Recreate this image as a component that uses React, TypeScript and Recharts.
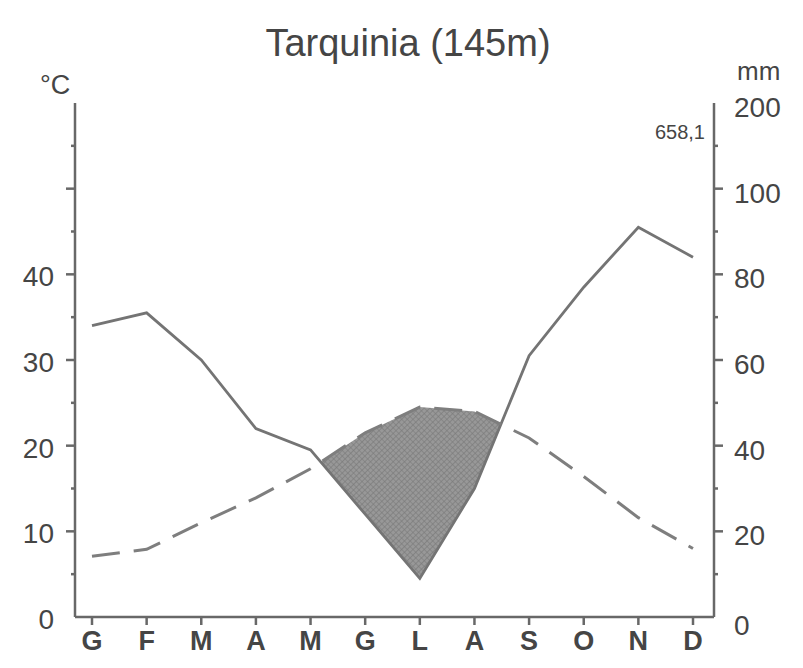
import React from "react";
import { ComposedChart, Area, Line, XAxis, YAxis } from "recharts";

// Walter-Lieth climate diagram, Tarquinia
const months = ["G", "F", "M", "A", "M", "G", "L", "A", "S", "O", "N", "D"];
const tempC = [7.1, 7.9, 11.0, 13.9, 17.3, 21.5, 24.5, 24.0, 20.9, 16.4, 11.6, 8.0];
const precipMm = [68, 71, 60, 44, 39, 24, 9, 30, 61, 77, 91, 84];

const tempTicks = [0, 5, 10, 15, 20, 25, 30, 35, 40, 45, 50, 55];
const tempLabels = [0, 10, 20, 30, 40];
// above 100 mm the scale is compressed: 120 on the linear axis stands for 200 mm
const mmTicks = [0, 10, 20, 30, 40, 50, 60, 70, 80, 90, 100, 110, 120];
const mmLabels: Record<number, string> = { 0: "0", 20: "20", 40: "40", 60: "60", 80: "80", 100: "100", 120: "200" };

const data = months.map((m, i) => ({ idx: i, month: m, temp: tempC[i], rain: precipMm[i] }));

const INK = "#686868";
const TEXT = "#454545";
const FONT = "'Liberation Sans', Arial, sans-serif";

const LeftTick = (props: any) => {
  const { x, y, payload } = props;
  const v = payload.value;
  const ax = x + 10;
  const major = v % 10 === 0;
  return (
    <g>
      {v > 0 && (
        <line x1={ax} x2={ax - (major ? 9 : 4)} y1={y} y2={y} stroke={INK} strokeWidth={2.5} />
      )}
      {tempLabels.includes(v) && (
        <text x={ax - 21} y={y + 2} dy="0.36em" textAnchor="end" fill={TEXT} fontSize={28} fontFamily={FONT}>
          {v}
        </text>
      )}
    </g>
  );
};

const RightTick = (props: any) => {
  const { x, y, payload } = props;
  const v = payload.value;
  const ax = x - 10;
  const major = v % 20 === 0;
  return (
    <g>
      {v > 0 && v < 120 && (
        <line x1={ax} x2={ax + (major ? 9 : 4)} y1={y} y2={y} stroke={INK} strokeWidth={2.5} />
      )}
      {mmLabels[v] !== undefined && (
        <text x={ax + 20} y={v === 0 ? y + 8 : y + 4} dy="0.36em" textAnchor="start" fill={TEXT} fontSize={28} fontFamily={FONT}>
          {mmLabels[v]}
        </text>
      )}
    </g>
  );
};

export default function App() {
  return (
    <div style={{ position: "absolute", left: 0, top: 0, width: 803, height: 668, background: "#fff" }}>
      <ComposedChart width={803} height={668} data={data} margin={{ top: 103, right: 0, bottom: 0, left: 0 }}>
        <defs>
          <pattern id="dry" width="4" height="4" patternUnits="userSpaceOnUse" patternTransform="rotate(45)">
            <rect width="4" height="4" fill="#989898" />
            <path d="M0 0 L0 4 M0 0 L4 0" stroke="#777777" strokeWidth="1.2" />
          </pattern>
        </defs>
        <text x={408} y={56} textAnchor="middle" fill={TEXT} fontSize={38} fontFamily={FONT}>
          Tarquinia (145m)
        </text>
        <text x={40} y={94} fill={TEXT} fontSize={27} fontFamily={FONT}>
          °C
        </text>
        <text x={737} y={80} fill={TEXT} fontSize={26} fontFamily={FONT}>
          mm
        </text>
        <text x={705} y={139} textAnchor="end" fill={TEXT} fontSize={20} fontFamily={FONT}>
          658,1
        </text>
        <XAxis
          dataKey="idx"
          type="category"
          scale="point"
          padding={{ left: 17, right: 21 }}
          height={51}
          tickFormatter={(i: number) => months[i]}
          interval={0}
          stroke={INK}
          axisLine={{ strokeWidth: 2.5 }}
          tickLine={{ strokeWidth: 2.5 }}
          tickSize={8}
          tickMargin={6}
          tick={{ fill: TEXT, fontSize: 27, fontWeight: "bold", fontFamily: FONT }}
        />
        <YAxis
          yAxisId="t"
          orientation="left"
          width={75}
          domain={[0, 60]}
          ticks={tempTicks}
          interval={0}
          stroke={INK}
          axisLine={{ strokeWidth: 2.5 }}
          tickLine={false}
          tickSize={8}
          tickMargin={2}
          tick={<LeftTick />}
        />
        <YAxis
          yAxisId="mm"
          orientation="right"
          width={89}
          domain={[0, 120]}
          ticks={mmTicks}
          interval={0}
          stroke={INK}
          axisLine={{ strokeWidth: 2.5 }}
          tickLine={false}
          tickSize={8}
          tickMargin={2}
          tick={<RightTick />}
        />
        {/* dry season: hatch under temperature, then mask everything under precipitation */}
        <Area
          yAxisId="t"
          dataKey="temp"
          type="linear"
          fill="url(#dry)"
          fillOpacity={1}
          stroke="none"
          isAnimationActive={false}
        />
        <Area
          yAxisId="mm"
          dataKey="rain"
          type="linear"
          fill="#ffffff"
          fillOpacity={1}
          stroke="none"
          isAnimationActive={false}
        />
        <Line
          yAxisId="mm"
          dataKey="rain"
          type="linear"
          stroke="#747474"
          strokeWidth={2.8}
          dot={false}
          isAnimationActive={false}
        />
        <Line
          yAxisId="t"
          dataKey="temp"
          type="linear"
          stroke="#7e7e7e"
          strokeWidth={3}
          strokeDasharray="28 14"
          dot={false}
          isAnimationActive={false}
        />
      </ComposedChart>
    </div>
  );
}
